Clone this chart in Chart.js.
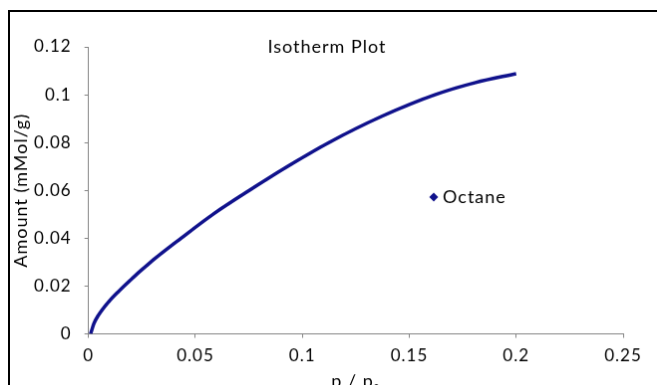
<!DOCTYPE html>
<html lang="en">
<head>
    <meta charset="UTF-8">
    <title>Isotherm Plot</title>
    <script src="https://cdn.jsdelivr.net/npm/chart.js"></script>
    <style>
        html, body { margin: 0; padding: 0; background: #fff; overflow: hidden; }
        #isothermChart {
            position: absolute;
            left: 8px;
            top: 10px;
            border-left: 2px solid #000;
            border-top: 2px solid #000;
        }
    </style>
</head>
<body>

    <canvas id="isothermChart" width="649" height="390"></canvas>

    <script>
        // values
        const seriesName = 'Octane';
        const relPressure = [0.001, 0.0025, 0.0045, 0.0093, 0.0138, 0.0166, 0.03, 0.0433, 0.059, 0.0752, 0.0938, 0.1124, 0.1372, 0.162, 0.181, 0.2];
        const amount = [0, 0.0042, 0.0076, 0.0133, 0.0175, 0.02, 0.0307, 0.04, 0.0505, 0.06, 0.0704, 0.08, 0.091, 0.1, 0.1051, 0.1088];
        const xTicks = [0, 0.05, 0.1, 0.15, 0.2, 0.25];
        const yTicks = [0, 0.02, 0.04, 0.06, 0.08, 0.1, 0.12];

        const FONT = 'Lato, "DejaVu Sans", sans-serif';
        const lineColor = '#10128c';
        const axisColor = '#868686';
        const fmt = v => String(+v.toFixed(4));

        // Excel-ish wide text: canvas letterSpacing gets reset on resize, so set it every pass
        const spacing = {
            id: 'spacing',
            beforeUpdate(chart) { chart.ctx.letterSpacing = '1px'; },
            beforeDraw(chart) { chart.ctx.letterSpacing = '1px'; }
        };

        // chart title + the single legend entry sit inside the plot like in Excel
        const overlayText = {
            id: 'overlayText',
            afterDraw(chart) {
                const ctx = chart.ctx;
                const area = chart.chartArea;
                const ds = chart.data.datasets[0];
                ctx.save();
                ctx.fillStyle = '#000';
                ctx.font = '18px ' + FONT;
                ctx.textAlign = 'center';
                ctx.textBaseline = 'alphabetic';
                ctx.fillText('Isotherm Plot', 318, 41);

                // legend
                const lx = area.left + area.width * 0.6457;
                const ly = area.top + area.height * 0.5234;
                ctx.fillStyle = ds.borderColor;
                ctx.beginPath();
                ctx.moveTo(lx, ly - 4.5);
                ctx.lineTo(lx + 4.5, ly);
                ctx.lineTo(lx, ly + 4.5);
                ctx.lineTo(lx - 4.5, ly);
                ctx.closePath();
                ctx.fill();
                ctx.fillStyle = '#000';
                ctx.font = '18px ' + FONT;
                ctx.textAlign = 'left';
                ctx.textBaseline = 'middle';
                ctx.fillText(ds.label, lx + 9, ly);
                ctx.restore();
            }
        };

        const ctxIso = document.getElementById('isothermChart').getContext('2d');
        new Chart(ctxIso, {
            type: 'scatter',
            data: {
                datasets: [{
                    label: seriesName,
                    data: relPressure.map((p, i) => ({ x: p, y: amount[i] })),
                    showLine: true,
                    borderColor: lineColor,
                    backgroundColor: lineColor,
                    borderWidth: 3.5,
                    pointRadius: 0,
                    cubicInterpolationMode: 'monotone'
                }]
            },
            options: {
                responsive: false,
                animation: false,
                layout: { padding: { top: 35, right: 34, left: 0, bottom: 0 } },
                plugins: {
                    legend: { display: false },
                    title: { display: false },
                    tooltip: { enabled: false }
                },
                scales: {
                    x: {
                        type: 'linear',
                        min: xTicks[0],
                        max: xTicks[xTicks.length - 1],
                        afterBuildTicks: s => { s.ticks = xTicks.map(v => ({ value: v })); },
                        afterFit: s => { s.height = 66.5; },
                        grid: { drawOnChartArea: false, drawTicks: true, tickLength: 4, color: axisColor },
                        border: { display: true, color: axisColor },
                        ticks: { color: '#000', padding: 8, font: { family: FONT, size: 17 }, maxRotation: 0, callback: fmt },
                        title: {
                            display: true,
                            text: 'p / pₒ',
                            color: '#000',
                            font: { family: FONT, size: 18 },
                            padding: { top: 0, bottom: 8 }
                        }
                    },
                    y: {
                        type: 'linear',
                        min: yTicks[0],
                        max: yTicks[yTicks.length - 1],
                        afterBuildTicks: s => { s.ticks = yTicks.map(v => ({ value: v })); },
                        afterFit: s => { s.width = 78.7; },
                        grid: { drawOnChartArea: false, drawTicks: true, tickLength: 4, color: axisColor },
                        border: { display: true, color: axisColor },
                        ticks: { color: '#000', padding: 13, font: { family: FONT, size: 17 }, callback: fmt },
                        title: {
                            display: true,
                            text: 'Amount (mMol/g)',
                            color: '#000',
                            font: { family: FONT, size: 18 },
                            padding: { top: 0, bottom: 0 }
                        }
                    }
                }
            },
            plugins: [spacing, overlayText]
        });
    </script>

</body>
</html>
